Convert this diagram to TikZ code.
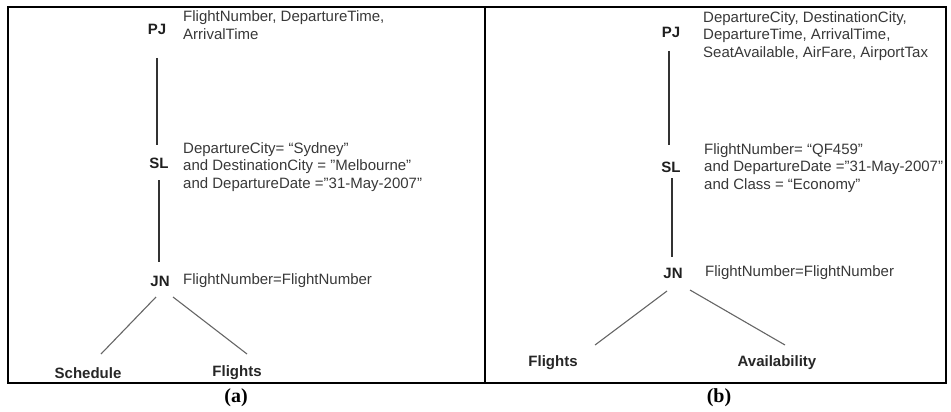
\documentclass[tikz,border=0pt]{standalone}
\usepackage{fontspec}
\setmainfont{Liberation Sans}
\newfontfamily\capfont{Liberation Serif}
\usetikzlibrary{calc}
\begin{document}
\begin{tikzpicture}[x=1pt,y=-1pt,
  op/.style={font=\fontsize{15}{18}\selectfont\bfseries, text=black!88, inner sep=0pt},
  attr/.style={font=\fontsize{15}{17.7}\selectfont, text=black!78, align=left, anchor=west, inner sep=0pt},
  leaf/.style={font=\fontsize{15}{18}\selectfont\bfseries, text=black!85, inner sep=0pt},
  vline/.style={draw=black!80, line width=1.1pt},
  dline/.style={draw=black!60, line width=1.1pt},
  frame/.style={draw=black, line width=2.4pt},
  captext/.style={font=\capfont\fontsize{20}{22}\selectfont\bfseries, inner sep=0pt}]
\useasboundingbox (0,0) rectangle (951,412);
% frames
\draw[frame] (8,7) rectangle (946,383);
\draw[frame] (485,7) -- (485,383);
% ---- (a)
\node[op] (PJa) at (157,29) {PJ};
\node[attr] (PJat) at (183,25) {FlightNumber, DepartureTime,\\ArrivalTime};
\node[op] (SLa) at (159,163) {SL};
\node[attr] (SLat) at (183,167) {DepartureCity= “Sydney”\\and DestinationCity = ”Melbourne”\\and DepartureDate =”31-May-2007”};
\node[op] (JNa) at (160,281) {JN};
\node[attr] (JNat) at (183,281) {FlightNumber=FlightNumber};
\node[leaf] (Scha) at (88,373) {Schedule};
\node[leaf] (Fla) at (237,373) {Flights};
\draw[vline] ($(PJa)+(0,29)$) -- ($(SLa)+(-2,-18)$);
\draw[vline] ($(SLa)+(0,17)$) -- ($(JNa)+(-1,-19)$);
\draw[dline] ($(JNa)+(-4,16)$) -- ($(Scha)+(13,-19)$);
\draw[dline] ($(JNa)+(13,16)$) -- ($(Fla)+(10,-19)$);
% ---- (b)
\node[op] (PJb) at (671,32) {PJ};
\node[attr] (PJbt) at (703,36) {DepartureCity, DestinationCity,\\DepartureTime, ArrivalTime,\\SeatAvailable, AirFare, AirportTax};
\node[op] (SLb) at (671,167) {SL};
\node[attr] (SLbt) at (704,168) {FlightNumber= “QF459”\\and DepartureDate =”31-May-2007”\\and Class = “Economy”};
\node[op] (JNb) at (673,273) {JN};
\node[attr] (JNbt) at (705,273) {FlightNumber=FlightNumber};
\node[leaf] (Flb) at (553,363) {Flights};
\node[leaf] (Avb) at (777,363) {Availability};
\draw[vline] ($(PJb)+(-2,19)$) -- ($(SLb)+(-2,-22)$);
\draw[vline] ($(SLb)+(1,11)$) -- ($(JNb)+(-1,-16)$);
\draw[dline] ($(JNb)+(-6,18)$) -- ($(Flb)+(42,-18)$);
\draw[dline] ($(JNb)+(17,17)$) -- ($(Avb)+(8,-18)$);
% captions
\node[captext] (capa) at (236,398) {(a)};
\node[captext] (capb) at (719,398) {(b)};
\end{tikzpicture}
\end{document}
